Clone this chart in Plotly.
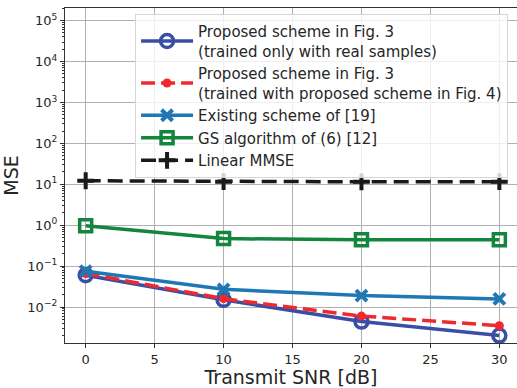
import plotly.graph_objects as go

# Transmit SNR values [dB]
snr_db = [0, 10, 20, 30]

# MSE for each scheme
mse_proposed_real = [0.060, 0.015, 0.0044, 0.0020]
mse_proposed_aug = [0.066, 0.016, 0.0060, 0.0035]
mse_existing_19 = [0.075, 0.027, 0.019, 0.0158]
mse_gs_12 = [0.97, 0.47, 0.44, 0.44]
mse_linear_mmse = [12.2, 11.6, 11.5, 11.6]

# Log-axis tick positions and labels
y_tick_vals = [1e-2, 1e-1, 1e0, 1e1, 1e2, 1e3, 1e4, 1e5]
y_tick_text = ["10<sup>\u22122</sup>", "10<sup>\u22121</sup>", "10<sup>0</sup>", "10<sup>1</sup>",
               "10<sup>2</sup>", "10<sup>3</sup>", "10<sup>4</sup>", "10<sup>5</sup>"]
x_tick_vals = [0, 5, 10, 15, 20, 25, 30]

minor_vals = [m * 10.0 ** e for e in range(-3, 6) for m in range(2, 10)]

LW = 3.5

fig = go.Figure()

fig.add_trace(go.Scatter(
    x=snr_db, y=mse_proposed_real, mode="lines+markers",
    name="Proposed scheme in Fig. 3<br>(trained only with real samples)",
    line=dict(color="#3a4ea6", width=LW),
    marker=dict(symbol="circle-open", size=13, color="#3a4ea6", line=dict(width=3.5)),
))
fig.add_trace(go.Scatter(
    x=snr_db, y=mse_proposed_aug, mode="lines+markers",
    name="Proposed scheme in Fig. 3<br>(trained with proposed scheme in Fig. 4)",
    line=dict(color="#ef2a2e", width=LW, dash="14px,6px"),
    marker=dict(symbol="circle", size=9, color="#ef2a2e"),
))
fig.add_trace(go.Scatter(
    x=snr_db, y=mse_existing_19, mode="lines+markers",
    name="Existing scheme of [19]",
    line=dict(color="#1f77b4", width=LW),
    marker=dict(symbol="x-thin", size=11, color="#1f77b4", line=dict(width=4, color="#1f77b4")),
))
fig.add_trace(go.Scatter(
    x=snr_db, y=mse_gs_12, mode="lines+markers",
    name="GS algorithm of (6) [12]",
    line=dict(color="#13853d", width=LW),
    marker=dict(symbol="square-open", size=12, color="#13853d", line=dict(width=3.5)),
))
fig.add_trace(go.Scatter(
    x=snr_db, y=mse_linear_mmse, mode="lines+markers",
    name="Linear MMSE",
    line=dict(color="#1a1a1a", width=LW, dash="15px,7px"),
    marker=dict(symbol="cross-thin", size=12, color="#1a1a1a", line=dict(width=4, color="#1a1a1a")),
))

axis_font = dict(family="DejaVu Sans", size=13, color="#262626")
title_font = dict(family="DejaVu Sans", size=19, color="#262626")

fig.update_layout(
    width=517, height=388,
    margin=dict(l=65, r=0, t=8, b=45),
    paper_bgcolor="white", plot_bgcolor="white",
    font=dict(family="DejaVu Sans", color="#262626"),
    showlegend=True,
    legend=dict(
        x=0.155, y=0.982, xanchor="left", yanchor="top",
        bgcolor="rgba(255,255,255,0.8)", bordercolor="#d6d6d6", borderwidth=1,
        font=dict(family="DejaVu Sans", size=15, color="#262626"),
        tracegroupgap=0, itemwidth=52,
    ),
    xaxis=dict(
        range=[-1.5, 31.28], tickvals=x_tick_vals,
        showgrid=True, gridcolor="#b0b0b0", gridwidth=1,
        showline=True, linecolor="#333333", linewidth=1.2, mirror=True,
        ticks="outside", ticklen=4, tickcolor="#333333",
        tickfont=axis_font, zeroline=False,
        title=dict(text="Transmit SNR [dB]", font=title_font, standoff=9),
    ),
    yaxis=dict(
        type="log", range=[-2.88, 5.31],
        tickvals=y_tick_vals, ticktext=y_tick_text,
        showgrid=True, gridcolor="#b0b0b0", gridwidth=1,
        showline=True, linecolor="#333333", linewidth=1.2, mirror=False,
        ticks="outside", ticklen=4, tickcolor="#333333",
        minor=dict(tickvals=minor_vals, ticks="outside", ticklen=2, tickcolor="#333333", showgrid=False),
        tickfont=axis_font, zeroline=False,
        title=dict(text="MSE", font=title_font, standoff=8),
    ),
)

fig.write_html("out.html")
